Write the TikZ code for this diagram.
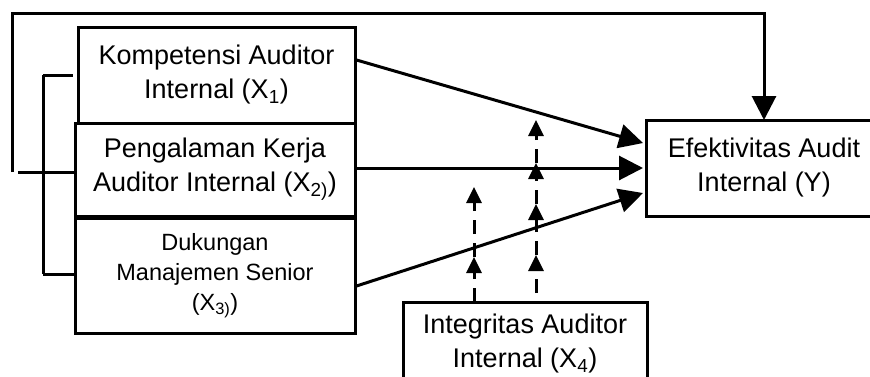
\documentclass[tikz,border=0pt]{standalone}
\usepackage{fontspec}
\setmainfont{Liberation Sans}
\usetikzlibrary{arrows.meta}
\begin{document}
\begin{tikzpicture}[x=1pt,y=-1pt,
  box/.style={draw,line width=3pt,rectangle,inner sep=0pt,align=center,
    font=\fontsize{27}{34}\selectfont},
  txt/.style={align=center,inner sep=0pt,font=\fontsize{27}{34}\selectfont},
  ln/.style={line width=3pt},
  big/.style={ln,-{Triangle[length=24pt,width=24pt]}},
  dar/.style={line width=3pt,dash pattern=on 14pt off 9pt,-{Triangle[length=16pt,width=15pt]}}]
\useasboundingbox (0,0) rectangle (870,376);
\node[box,minimum width=277pt,minimum height=96pt] (x1) at (216.5,75) {Kompetensi Auditor\\Internal (X\textsubscript{1})};
\node[box,minimum width=280pt,minimum height=93pt] (x2) at (215,169.5) {Pengalaman Kerja\\Auditor Internal (X\textsubscript{2)})};
\node[box,minimum width=280pt,minimum height=115pt,font=\fontsize{23.5}{30}\selectfont] (x3) at (215,275.5) {Dukungan\\Manajemen Senior\\(X\textsubscript{3)})};
% Y box (right side beyond the picture)
\node[txt] (y) at (764,168) {Efektivitas Audit\\Internal (Y)};
\draw[ln] (872,120) -- (646,120) -- (646,216) -- (872,216);
% X4 box (bottom beyond the picture)
\node[txt] (x4) at (525,344) {Integritas Auditor\\Internal (X\textsubscript{4})};
\draw[ln] (403,378) -- (403,302) -- (647,302) -- (647,378);
% feedback line
\coordinate (f0) at (12,172);
\coordinate (f1) at (12,13);
\coordinate (fy) at (764,120);
\draw[big,line join=miter] (f0) -- (f1) -| (fy);
% bracket
\coordinate (b0) at (18,172);
\coordinate (b1) at (43,75);
\coordinate (b2) at (43,274);
\draw[ln] (b0) -- (x2.west |- b0);
\draw[ln] (b1) -- (b2);
\draw[ln] (b1) -- ++(30,0) coordinate (b1e);
\draw[ln] (b2) -- (x3.west |- b2);
% main arrows
\coordinate (t1) at (643,143);
\coordinate (t2) at (643,168);
\coordinate (t3) at (643,193);
\draw[big] (x1.east |- 0,60) -- (t1);
\draw[big] (x2.east |- 0,168) -- (t2);
\draw[big] (x3.east |- 0,286) -- (t3);
% dashed moderating arrows
\coordinate (la) at (474,302);
\coordinate (lb) at (474,257);
\coordinate (lc) at (474,187);
\draw[dar] (la) -- (lb);
\draw[dar] (lb) -- (lc);
\coordinate (ra) at (536,293);
\coordinate (rb) at (536,255);
\coordinate (rc) at (536,204);
\coordinate (rd) at (536,163);
\coordinate (re) at (536,120);
\draw[dar] (ra) -- (rb);
\draw[dar] (rb) -- (rc);
\draw[dar] (rc) -- (rd);
\draw[dar] (rd) -- (re);
\end{tikzpicture}
\end{document}
